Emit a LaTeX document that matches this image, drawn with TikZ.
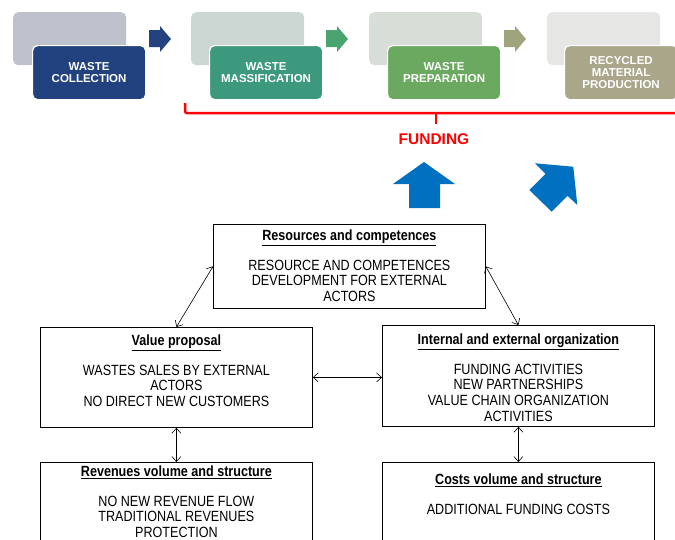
\documentclass[tikz,border=0pt]{standalone}
\usepackage{fontspec}
\setmainfont{Liberation Sans}
\newfontfamily\narrowfont[FakeStretch=0.85]{Liberation Sans}
\usetikzlibrary{arrows.meta,calc}
\definecolor{fOne}{HTML}{21427F}
\definecolor{bOne}{HTML}{BEC2CD}
\definecolor{aOne}{HTML}{24437E}
\definecolor{fTwo}{HTML}{3D997E}
\definecolor{bTwo}{HTML}{CCD6D3}
\definecolor{aTwo}{HTML}{4AA46F}
\definecolor{fThree}{HTML}{6AA95F}
\definecolor{bThree}{HTML}{D7DDD7}
\definecolor{aThree}{HTML}{A0A47C}
\definecolor{fFour}{HTML}{A9A68A}
\definecolor{bFour}{HTML}{E6E7E5}
\definecolor{blueArrow}{HTML}{0070C0}
\begin{document}
\begin{tikzpicture}[x=1pt,y=-1pt,
  backbox/.style={fill=#1, rounded corners=5pt, minimum width=113pt, minimum height=53pt, inner sep=0pt, anchor=north west},
  frontbox/.style={fill=#1, draw=white, line width=1.2pt, rounded corners=5pt, minimum width=113pt, minimum height=54pt, anchor=north west, text=white, font=\bfseries\fontsize{11.5}{11.8}\selectfont, align=center, inner sep=0pt},
  bmbox/.style={draw=black, line width=0.8pt, minimum width=272pt, inner sep=0pt, anchor=north west},
  bmtext/.style={align=center, font=\narrowfont\fontsize{14.8}{15.7}\selectfont, inner sep=0pt, anchor=north},
  conn/.style={{Straight Barb[length=5pt,width=9pt]}-{Straight Barb[length=5pt,width=9pt]}, line width=0.6pt},
  bracket/.style={draw=red, line width=2.5pt},
]
\useasboundingbox (0,0) rectangle (675,539);
\clip (0,0) rectangle (675,539);

% top process row
\node[backbox=bOne] (b1) at (13,12) {};
\node[frontbox=fOne] (f1) at (32,45) {WASTE\\COLLECTION};
\node[backbox=bTwo] (b2) at (191,12) {};
\node[frontbox=fTwo] (f2) at (209,45) {WASTE\\MASSIFICATION};
\node[backbox=bThree] (b3) at (369,12) {};
\node[frontbox=fThree] (f3) at (387,45) {WASTE\\PREPARATION};
\node[backbox=bFour] (b4) at (547,12) {};
\node[frontbox=fFour] (f4) at (564,45) {RECYCLED\\MATERIAL\\PRODUCTION};

% block arrows
\fill[aOne] (149,30) -- (160,30) -- (160,26) -- (171,39) -- (160,52) -- (160,47) -- (149,47) -- cycle;
\fill[aTwo] (326,30) -- (337,30) -- (337,26) -- (348,39) -- (337,52) -- (337,47) -- (326,47) -- cycle;
\fill[aThree] (504,30) -- (515,30) -- (515,26) -- (526,39) -- (515,52) -- (515,47) -- (504,47) -- cycle;

% funding bracket
\draw[bracket, rounded corners=2pt] (185,103) -- (185,113) -- (680,113);
\draw[bracket] (436,113) -- (436,124);
\node[text=red, font=\bfseries\fontsize{15.5}{18}\selectfont, inner sep=0pt] (fund) at (434,139) {FUNDING};

% blue arrows
\fill[blueArrow] (409,208) -- (409,184) -- (393,184) -- (424,162) -- (455,184) -- (440,184) -- (440,208) -- cycle;
\fill[blueArrow] (529.3,190) -- (545.5,173.8) -- (535,163.3) -- (573.3,166.7) -- (577.3,205) -- (567.5,195.8) -- (551.7,211.7) -- cycle;

% business model boxes
\node[bmbox, minimum height=84pt] (res) at (213,224) {};
\node[bmtext] (rest) at ([yshift=-5.5pt]res.north) {\textbf{\underline{Resources and competences}}\\[14pt]RESOURCE AND COMPETENCES\\DEVELOPMENT FOR EXTERNAL\\ACTORS};

\node[bmbox, minimum height=100pt] (val) at (40,327) {};
\node[bmtext] (valt) at ([yshift=-7.5pt]val.north) {\textbf{\underline{Value proposal}}\\[14pt]WASTES SALES BY EXTERNAL\\ACTORS\\NO DIRECT NEW CUSTOMERS};

\node[bmbox, minimum height=101pt] (int) at (382,325) {};
\node[bmtext] (intt) at ([yshift=-8.5pt]int.north) {\textbf{\underline{Internal and external organization}}\\[14pt]FUNDING ACTIVITIES\\NEW PARTNERSHIPS\\VALUE CHAIN ORGANIZATION\\ACTIVITIES};

\node[bmbox, minimum height=100pt] (rev) at (40,462) {};
\node[bmtext] (revt) at ([yshift=-3.5pt]rev.north) {\textbf{\underline{Revenues volume and structure}}\\[14pt]NO NEW REVENUE FLOW\\TRADITIONAL REVENUES\\PROTECTION};

\node[bmbox, minimum height=100pt] (cost) at (382,462) {};
\node[bmtext] (costt) at ([yshift=-11.5pt]cost.north) {\textbf{\underline{Costs volume and structure}}\\[14pt]ADDITIONAL FUNDING COSTS};

% connectors
\draw[conn] (res.west) -- (val.north);
\draw[conn] (res.east) -- (int.north);
\draw[conn] (val.east) -- (val.east -| int.west);
\draw[conn] (val.south) -- (rev.north);
\draw[conn] (int.south) -- (cost.north);
\end{tikzpicture}
\end{document}
